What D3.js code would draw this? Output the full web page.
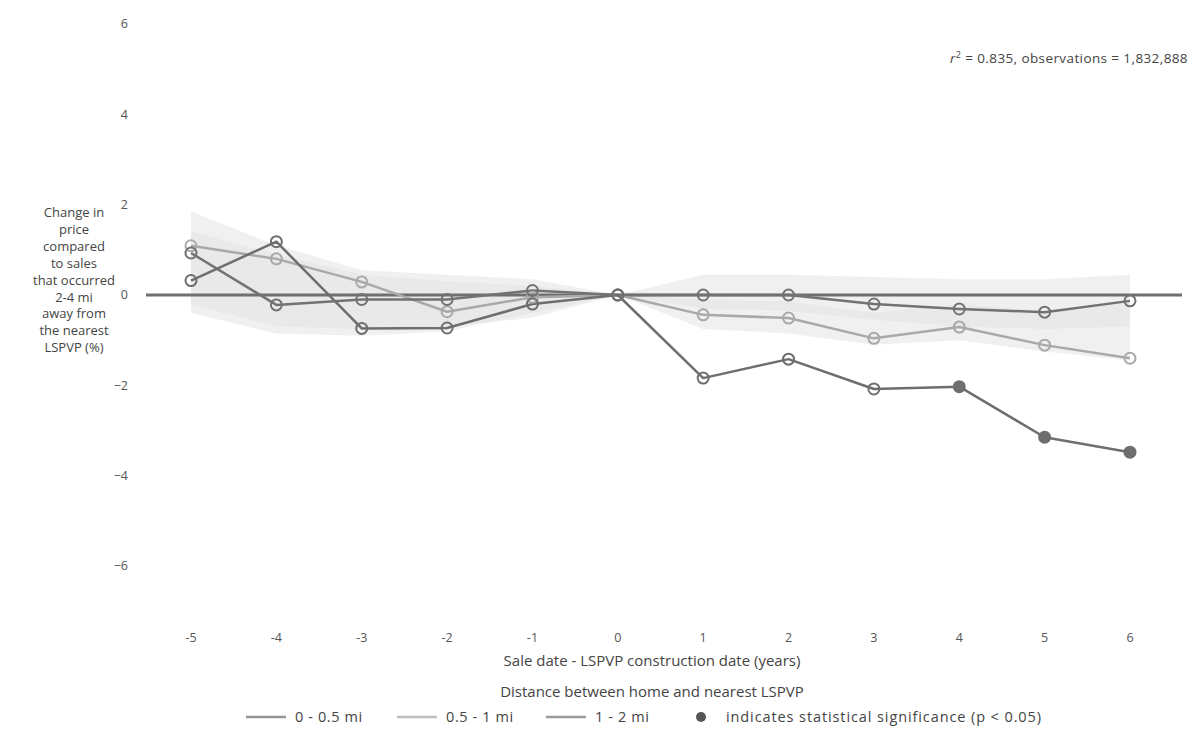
<!DOCTYPE html>
<html>
<head>
<meta charset="utf-8">
<script src="https://cdn.jsdelivr.net/npm/d3@7"></script>
<style>
  html, body { margin: 0; padding: 0; background: #fff; }
  svg { display: block; font-family: "Open Sans", Lato, sans-serif; }
</style>
</head>
<body>
<svg id="chart" width="1195" height="731"></svg>
<script>
// ---------- data ----------
const years = [-5, -4, -3, -2, -1, 0, 1, 2, 3, 4, 5, 6];
const xTickLabels = ["-5", "-4", "-3", "-2", "-1", "0", "1", "2", "3", "4", "5", "6"];
const yTicks = [-6, -4, -2, 0, 2, 4, 6];
const yTickLabels = ["\u22126", "\u22124", "\u22122", "0", "2", "4", "6"];

const seriesNames = ["0 - 0.5 mi", "0.5 - 1 mi", "1 - 2 mi"];
const vals_0_05 = [0.32, 1.18, -0.74, -0.73, -0.20, 0, -1.84, -1.42, -2.08, -2.03, -3.15, -3.48];
const vals_05_1 = [1.09, 0.80, 0.29, -0.37, -0.05, 0, -0.44, -0.51, -0.96, -0.71, -1.11, -1.40];
const vals_1_2  = [0.93, -0.22, -0.10, -0.10, 0.10, 0, 0.00, 0.00, -0.20, -0.31, -0.38, -0.13];
const sig_0_05 = [0, 0, 0, 0, 0, 0, 0, 0, 0, 1, 1, 1];
const sig_05_1 = [0, 0, 0, 0, 0, 0, 0, 0, 0, 0, 0, 0];
const sig_1_2  = [0, 0, 0, 0, 0, 0, 0, 0, 0, 0, 0, 0];

// shaded confidence bands (upper / lower)
const bandA_upper = [1.85, 1.10, 0.55, 0.45, 0.35, 0, 0.45, 0.45, 0.40, 0.35, 0.35, 0.45];
const bandA_lower = [-0.20, -0.70, -0.75, -0.70, -0.50, 0, -0.30, -0.35, -0.55, -0.70, -0.75, -0.70];
const bandB_upper = [1.40, 0.90, 0.45, 0.30, 0.20, 0, -0.10, -0.15, -0.40, -0.20, -0.35, -0.15];
const bandB_lower = [-0.40, -0.85, -0.90, -0.80, -0.40, 0, -0.75, -0.85, -1.10, -1.00, -1.25, -1.45];

const seriesColors = ["#6e6e6e", "#a9a9a9", "#727272"];
const legendColors = ["#959595", "#bdbdbd", "#9c9c9c"];

const statsText = "= 0.835, observations = 1,832,888";

// ---------- chart ----------
const svg = d3.select("#chart");
const x = d3.scaleLinear().domain([-5, 6]).range([191, 1130]);
const y = d3.scaleLinear().domain([-6, 6]).range([566, 24]);

// bands
function drawBand(up, lo) {
  const area = d3.area()
    .x((d, i) => x(years[i]))
    .y0((d, i) => y(lo[i]))
    .y1((d, i) => y(up[i]))
    .curve(d3.curveLinear);
  svg.append("path")
    .attr("d", area(up))
    .attr("fill", "#e2e2e2")
    .attr("fill-opacity", 0.5);
}
drawBand(bandA_upper, bandA_lower);
drawBand(bandB_upper, bandB_lower);

// y tick labels
svg.append("g").selectAll("text")
  .data(yTicks)
  .join("text")
  .attr("x", 128)
  .attr("y", d => y(d))
  .attr("dy", "0.35em")
  .attr("text-anchor", "end")
  .attr("font-size", 12.5)
  .attr("fill", "#555")
  .text((d, i) => yTickLabels[i]);

// zero line
svg.append("line")
  .attr("x1", 146).attr("x2", 1182)
  .attr("y1", y(0)).attr("y2", y(0))
  .attr("stroke", "#6f6f6f")
  .attr("stroke-width", 3);

// series
const allSeries = [
  { name: seriesNames[0], values: vals_0_05, sig: sig_0_05, color: seriesColors[0] },
  { name: seriesNames[1], values: vals_05_1, sig: sig_05_1, color: seriesColors[1] },
  { name: seriesNames[2], values: vals_1_2,  sig: sig_1_2,  color: seriesColors[2] }
];
const drawOrder = [1, 2, 0];
const line = d3.line().x((d, i) => x(years[i])).y(d => y(d));
drawOrder.forEach(k => {
  const s = allSeries[k];
  svg.append("path")
    .attr("d", line(s.values))
    .attr("fill", "none")
    .attr("stroke", s.color)
    .attr("stroke-width", 2.5)
    .attr("stroke-linejoin", "round");
});
drawOrder.forEach(k => {
  const s = allSeries[k];
  svg.append("g").selectAll("circle")
    .data(s.values)
    .join("circle")
    .attr("cx", (d, i) => x(years[i]))
    .attr("cy", d => y(d))
    .attr("r", 5.5)
    .attr("fill", (d, i) => s.sig[i] ? s.color : "none")
    .attr("stroke", s.color)
    .attr("stroke-width", 2);
});

// x tick labels
svg.append("g").selectAll("text")
  .data(years)
  .join("text")
  .attr("x", d => x(d))
  .attr("y", 642)
  .attr("text-anchor", "middle")
  .attr("font-size", 12.5)
  .attr("fill", "#555")
  .text((d, i) => xTickLabels[i]);

// x title
svg.append("text")
  .attr("x", 652).attr("y", 666)
  .attr("text-anchor", "middle")
  .attr("font-size", 15)
  .attr("fill", "#444")
  .text("Sale date - LSPVP construction date (years)");

// y title
const yTitleLines = ["Change in", "price", "compared", "to sales", "that occurred", "2-4 mi", "away from", "the nearest", "LSPVP (%)"];
svg.append("g").selectAll("text")
  .data(yTitleLines)
  .join("text")
  .attr("x", 74)
  .attr("y", (d, i) => 217 + i * 16.9)
  .attr("text-anchor", "middle")
  .attr("font-size", 13)
  .attr("fill", "#444")
  .text(d => d);

// stats annotation
const st = svg.append("text")
  .attr("x", 1188).attr("y", 63)
  .attr("text-anchor", "end")
  .attr("font-size", 13.5)
  .attr("letter-spacing", 0.4)
  .attr("fill", "#444");
st.append("tspan").attr("font-style", "italic").text("r");
st.append("tspan").attr("font-size", 9).attr("dy", -5).text("2");
st.append("tspan").attr("dy", 5).text(" " + statsText);

// legend
svg.append("text")
  .attr("x", 652).attr("y", 697)
  .attr("text-anchor", "middle")
  .attr("font-size", 15)
  .attr("fill", "#444")
  .text("Distance between home and nearest LSPVP");

const legendX = [246, 397, 546];
const leg = svg.append("g");
seriesNames.forEach((n, i) => {
  leg.append("line")
    .attr("x1", legendX[i]).attr("x2", legendX[i] + 40)
    .attr("y1", 717).attr("y2", 717)
    .attr("stroke", legendColors[i])
    .attr("stroke-width", 2.5);
  leg.append("text")
    .attr("x", legendX[i] + 49).attr("y", 722)
    .attr("font-size", 14.5)
    .attr("letter-spacing", 0.6)
    .attr("fill", "#444")
    .text(n);
});
leg.append("circle")
  .attr("cx", 701).attr("cy", 717).attr("r", 5)
  .attr("fill", "#555");
leg.append("text")
  .attr("x", 726).attr("y", 722)
  .attr("font-size", 14.5)
  .attr("letter-spacing", 0.9)
  .attr("fill", "#444")
  .text("indicates statistical significance (p < 0.05)");
</script>
</body>
</html>
